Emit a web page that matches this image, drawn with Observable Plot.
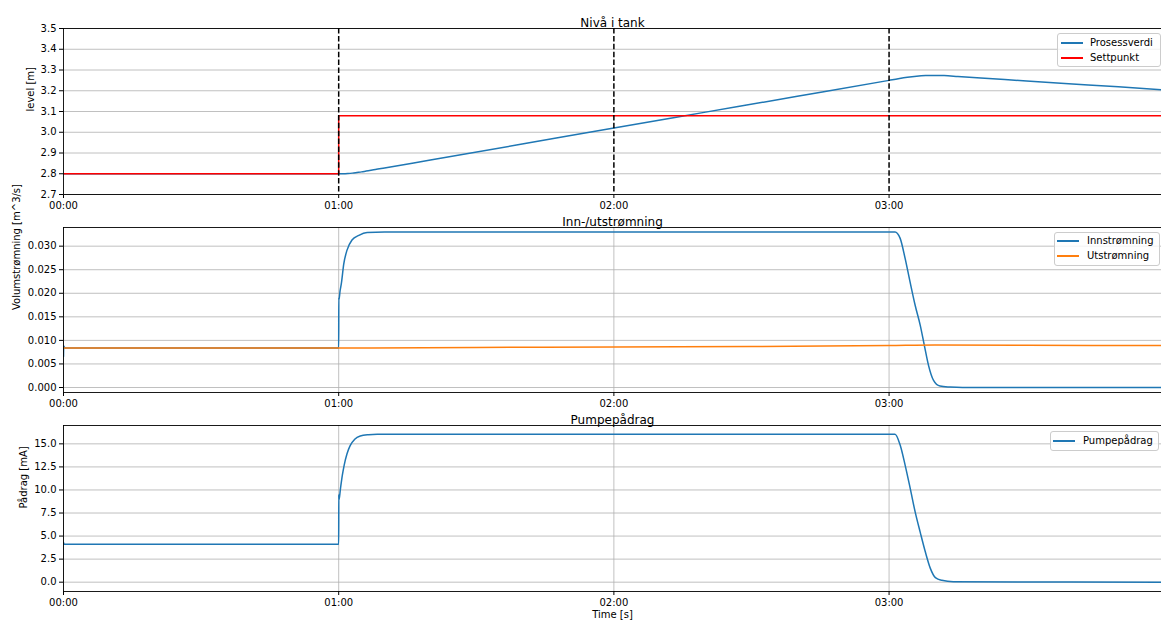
<!DOCTYPE html>
<html>
<head>
<meta charset="utf-8">
<script src="https://cdn.jsdelivr.net/npm/d3@7"></script>
<script src="https://cdn.jsdelivr.net/npm/@observablehq/plot@0.6"></script>
<style>
  body { margin: 0; background: #fff; font-family: "DejaVu Sans", sans-serif; }
  #chart { position: relative; width: 1161px; height: 622px; overflow: hidden; background: #fff; }
  #chart > svg { position: absolute; left: 0; }
  .legend-box { position: absolute; border: 1px solid #cccccc; border-radius: 3px; background: rgba(255,255,255,0.8); box-sizing: border-box; }
  .legend-line { position: absolute; height: 2px; }
  .legend-text { position: absolute; font-size: 10px; line-height: 12px; color: #000; white-space: nowrap; font-family: "DejaVu Sans", sans-serif; }
</style>
</head>
<body>
<div id="chart"></div>
<script>
// ---------- shared x axis ----------
const xTicks = [0, 60, 120, 180];                       // minutes
const xTickLabels = ["00:00", "01:00", "02:00", "03:00"];
const xDomain = [0, 239.4];
const markerTimes = [60, 120, 180];

// ---------- Panel 1: Nivå i tank ----------
const levelTicks = [2.7, 2.8, 2.9, 3.0, 3.1, 3.2, 3.3, 3.4, 3.5];
const levelT = [0, 60, 61, 62, 63, 64, 65, 66, 68, 70, 80, 100, 120, 140, 160, 180, 182, 184, 186, 188, 190, 192, 195, 200, 210, 220, 230, 239.4];
const levelV = [2.800, 2.800, 2.800, 2.801, 2.803, 2.806, 2.809, 2.813, 2.820, 2.828, 2.866, 2.943, 3.021, 3.097, 3.173, 3.250, 3.258, 3.265, 3.270, 3.273, 3.274, 3.273, 3.269, 3.262, 3.247, 3.233, 3.219, 3.205];
const setpointT = [0, 60, 60, 239.4];
const setpointV = [2.80, 2.80, 3.08, 3.08];

// ---------- Panel 2: Inn-/utstrømning ----------
const flowTicks = [0.000, 0.005, 0.010, 0.015, 0.020, 0.025, 0.030];
const inflowT = [0, 0.05, 0.15, 0.4, 60, 60.02, 60.05, 60.3, 60.6, 61.1, 61.8, 62.9, 64.4, 66.2, 70, 181.3, 182.4, 183.5, 184.6, 185.7, 186.8, 187.7, 188.6, 189.7, 191.1, 193.3, 196, 239.4];
const inflowV = [0.0066, 0.0088, 0.0086, 0.0084, 0.0084, 0.0191, 0.0186, 0.0205, 0.0222, 0.0262, 0.0291, 0.0313, 0.0323, 0.0329, 0.0330, 0.0330, 0.0317, 0.0274, 0.0223, 0.0174, 0.0132, 0.0089, 0.0047, 0.0015, 0.0003, 0.0001, 0.0000, 0.0000];
const outflowT = [0, 60, 90, 120, 150, 180, 190, 210, 239.4];
const outflowV = [0.0084, 0.0084, 0.0085, 0.0086, 0.0087, 0.0089, 0.0090, 0.00895, 0.0089];

// ---------- Panel 3: Pumpepådrag ----------
const pumpTicks = [0.0, 2.5, 5.0, 7.5, 10.0, 12.5, 15.0];
const pumpT = [0, 0.15, 60, 60.02, 60.05, 60.4, 60.8, 61.2, 61.8, 62.5, 63.5, 64.7, 66.5, 68.4, 181.3, 182.4, 183.5, 184.6, 185.7, 186.8, 187.9, 189.0, 190.1, 191.5, 194.0, 239.4];
const pumpV = [4.3, 4.1, 4.1, 9.5, 8.9, 10.2, 11.6, 12.7, 13.9, 14.8, 15.5, 15.85, 16.0, 16.05, 16.05, 14.9, 12.7, 10.2, 7.6, 5.4, 3.3, 1.5, 0.5, 0.2, 0.05, 0.0];

const C0 = "#1f77b4", C1 = "#ff7f0e", RED = "#ff0000";
const GRID = "#b0b0b0";
const toRows = (T, V) => T.map((t, i) => ({t, v: V[i]}));

function panel(o) {
  const marks = [];
  if (o.vgrid) marks.push(Plot.ruleX(xTicks, {stroke: GRID, strokeWidth: 0.8}));
  marks.push(Plot.ruleY(o.yTicks, {stroke: GRID, strokeWidth: 0.8}));
  marks.push(...o.marks);
  marks.push(Plot.ruleY([o.yDomain[0]], {stroke: "#000", strokeWidth: 0.9}));
  marks.push(Plot.ruleY([o.yDomain[1]], {stroke: "#000", strokeWidth: 0.9}));
  marks.push(Plot.ruleX([xDomain[0]], {stroke: "#000", strokeWidth: 0.9}));
  marks.push(Plot.text([o.title], {text: d => d, frameAnchor: "top", dy: -10, fontSize: 12, fill: "#000"}));
  marks.push(Plot.text([o.ylabel], {text: d => d, frameAnchor: "left", rotate: -90, dx: o.ylabelDx, fontSize: 10, fill: "#000"}));
  if (o.xlabel) marks.push(Plot.text([o.xlabel], {text: d => d, frameAnchor: "bottom", dy: 26, fontSize: 10, fill: "#000"}));
  const svg = Plot.plot({
    width: 1161,
    height: o.height,
    marginLeft: 63,
    marginRight: 0,
    marginTop: o.mt,
    marginBottom: o.mb,
    style: {fontFamily: "DejaVu Sans", fontSize: "10px", color: "#000", background: "transparent", overflow: "visible"},
    x: {domain: xDomain, ticks: xTicks, tickFormat: d => xTickLabels[xTicks.indexOf(d)], tickSize: 4, tickPadding: 3, label: null},
    y: {domain: o.yDomain, ticks: o.yTicks, tickFormat: d3.format(o.yFormat), tickSize: 4, tickPadding: 3, label: null},
    marks
  });
  svg.style.top = o.top + "px";
  document.getElementById("chart").appendChild(svg);
}

panel({
  top: 0, height: 210, mt: 28, mb: 16,
  yDomain: [2.7, 3.5], yTicks: levelTicks, yFormat: ".1f",
  title: "Nivå i tank", ylabel: "level [m]", ylabelDx: -33,
  marks: [
    Plot.line(toRows(levelT, levelV), {x: "t", y: "v", stroke: C0, strokeWidth: 1.5, curve: "monotone-x", clip: true}),
    Plot.line(toRows(setpointT, setpointV), {x: "t", y: "v", stroke: RED, strokeWidth: 1.5, clip: true}),
    Plot.ruleX(markerTimes, {stroke: "#000", strokeWidth: 1.5, strokeDasharray: "5.5,2.4"})
  ]
});

panel({
  top: 210, height: 200, mt: 17, mb: 18, vgrid: true,
  yDomain: [-0.00106, 0.03396], yTicks: flowTicks, yFormat: ".3f",
  title: "Inn-/utstrømning", ylabel: "Volumstrømning [m^3/s]", ylabelDx: -47,
  marks: [
    Plot.line(toRows(inflowT, inflowV), {x: "t", y: "v", stroke: C0, strokeWidth: 1.5, curve: "monotone-x", clip: true}),
    Plot.line(toRows(outflowT, outflowV), {x: "t", y: "v", stroke: C1, strokeWidth: 1.5, curve: "monotone-x", clip: true})
  ]
});

panel({
  top: 410, height: 212, mt: 15, mb: 31, vgrid: true,
  yDomain: [-1.01, 16.99], yTicks: pumpTicks, yFormat: ".1f",
  title: "Pumpepådrag", ylabel: "Pådrag [mA]", ylabelDx: -40, xlabel: "Time [s]",
  marks: [
    Plot.line(toRows(pumpT, pumpV), {x: "t", y: "v", stroke: C0, strokeWidth: 1.5, curve: "monotone-x", clip: true})
  ]
});

// ---------- legends ----------
function legend(box, items) {
  const chart = document.getElementById("chart");
  const b = document.createElement("div");
  b.className = "legend-box";
  Object.assign(b.style, {left: box.x + "px", top: box.y + "px", width: box.w + "px", height: box.h + "px"});
  chart.appendChild(b);
  items.forEach(it => {
    const l = document.createElement("div");
    l.className = "legend-line";
    Object.assign(l.style, {left: box.lx + "px", top: Math.round(it.y - 1) + "px", width: "22px", background: it.color});
    chart.appendChild(l);
    const t = document.createElement("div");
    t.className = "legend-text";
    t.textContent = it.label;
    Object.assign(t.style, {left: box.tx + "px", top: Math.round(it.y - 6) + "px"});
    chart.appendChild(t);
  });
}
legend({x: 1057, y: 33, w: 104, h: 34, lx: 1061, tx: 1090},
  [{label: "Prosessverdi", color: C0, y: 42.5}, {label: "Settpunkt", color: RED, y: 57.5}]);
legend({x: 1054, y: 232, w: 106, h: 34, lx: 1057, tx: 1087},
  [{label: "Innstrømning", color: C0, y: 241}, {label: "Utstrømning", color: C1, y: 256}]);
legend({x: 1050, y: 431, w: 109, h: 20, lx: 1053, tx: 1083},
  [{label: "Pumpepådrag", color: C0, y: 441}]);
</script>
</body>
</html>
